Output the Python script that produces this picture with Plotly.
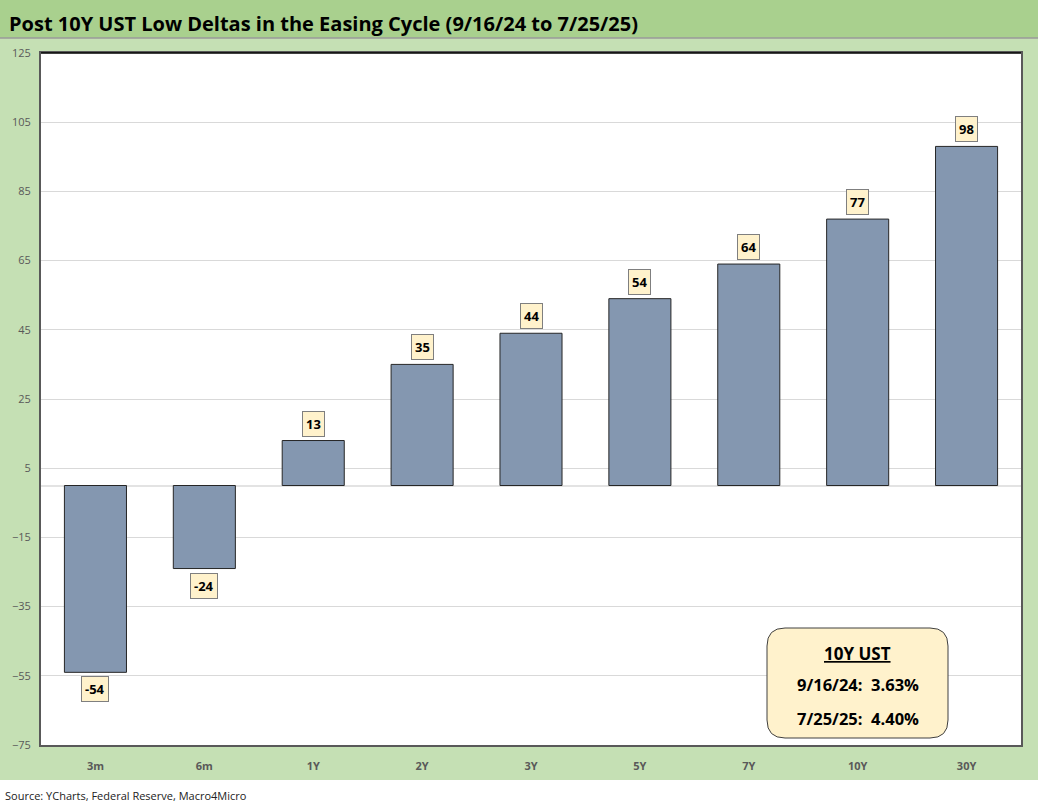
import plotly.graph_objects as go

categories = ["3m", "6m", "1Y", "2Y", "3Y", "5Y", "7Y", "10Y", "30Y"]
deltas = [-54, -24, 13, 35, 44, 54, 64, 77, 98]
y_ticks = [-75, -55, -35, -15, 5, 25, 45, 65, 85, 105, 125]
title_text = "Post 10Y UST Low Deltas in the Easing Cycle (9/16/24 to 7/25/25)"
source_text = "Source: YCharts, Federal Reserve, Macro4Micro"
box_title = "10Y UST"
box_lines = ["9/16/24:  3.63%", "7/25/25:  4.40%"]

W, H = 1038, 808
L, R, T, B = 41, 17, 53, 63
PW, PH = W - L - R, H - T - B

def px(x):
    return (x - L) / PW

def py(y):
    return (H - B - y) / PH

FONT = "Open Sans"

fig = go.Figure()
fig.add_trace(go.Bar(
    x=categories, y=deltas,
    marker=dict(color="#8497b0", line=dict(color="#262626", width=1)),
    width=0.57, hoverinfo="x+y",
))

shapes = [
    dict(type="rect", xref="paper", yref="paper", x0=px(0), x1=px(1038), y0=py(780), y1=py(38),
         fillcolor="#c5e0b4", line=dict(width=0), layer="below"),
    dict(type="rect", xref="paper", yref="paper", x0=px(0), x1=px(1038), y0=py(38), y1=py(0),
         fillcolor="#a9d08e", line=dict(width=0), layer="below"),
    dict(type="line", xref="paper", yref="paper", x0=px(0), x1=px(1038), y0=py(38), y1=py(38),
         line=dict(color="#9a9a9a", width=1.5), layer="below"),
    dict(type="rect", xref="paper", yref="paper", x0=0, x1=1, y0=0, y1=1,
         fillcolor="white", line=dict(width=0), layer="below"),
    dict(type="line", xref="paper", yref="paper", x0=0, x1=1, y0=1, y1=1,
         line=dict(color="#000000", width=1.5)),
]

bx0, bx1, by0, by1 = 767, 948, 738, 628
r = 18
rx, ry = r / PW, r / PH
X0, X1, Y0, Y1 = px(bx0), px(bx1), py(by0), py(by1)
path = (f"M {X0+rx},{Y1} L {X1-rx},{Y1} Q {X1},{Y1} {X1},{Y1-ry} "
        f"L {X1},{Y0+ry} Q {X1},{Y0} {X1-rx},{Y0} L {X0+rx},{Y0} "
        f"Q {X0},{Y0} {X0},{Y0+ry} L {X0},{Y1-ry} Q {X0},{Y1} {X0+rx},{Y1} Z")
shapes.append(dict(type="path", xref="paper", yref="paper", path=path,
                   fillcolor="#fff2cc", line=dict(color="#404040", width=1)))

annotations = []
for c, v in zip(categories, deltas):
    annotations.append(dict(
        x=c, y=v, xref="x", yref="y", text=f"<b>{v}</b>", showarrow=False,
        xanchor="center",
        yanchor="bottom" if v >= 0 else "top", yshift=4 if v >= 0 else -4,
        font=dict(family=FONT, size=13, color="black"),
        bgcolor="#fff2cc", bordercolor="#7f7f7f", borderwidth=1, borderpad=3,
    ))

cx = px((bx0 + bx1) / 2)
annotations.append(dict(x=cx, y=py(653), xref="paper", yref="paper", showarrow=False,
                        xanchor="center", yanchor="middle",
                        text=f"<b><u>{box_title}</u></b>", font=dict(family=FONT, size=17, color="black")))
annotations.append(dict(x=cx, y=py(684), xref="paper", yref="paper", showarrow=False,
                        xanchor="center", yanchor="middle",
                        text=f"<b>{box_lines[0]}</b>", font=dict(family=FONT, size=16.5, color="black")))
annotations.append(dict(x=cx, y=py(718), xref="paper", yref="paper", showarrow=False,
                        xanchor="center", yanchor="middle",
                        text=f"<b>{box_lines[1]}</b>", font=dict(family=FONT, size=16.5, color="black")))
annotations.append(dict(x=px(7), y=py(24), xref="paper", yref="paper", showarrow=False,
                        xanchor="left", yanchor="middle",
                        text=f"<b>{title_text}</b>", font=dict(family=FONT, size=20, color="black")))
annotations.append(dict(x=px(3), y=py(795), xref="paper", yref="paper", showarrow=False,
                        xanchor="left", yanchor="middle",
                        text=source_text, font=dict(family=FONT, size=11, color="#222222")))

fig.update_layout(
    width=W, height=H,
    margin=dict(l=L, r=R, t=T, b=B, pad=0),
    paper_bgcolor="white", plot_bgcolor="rgba(0,0,0,0)",
    showlegend=False, bargap=0.43,
    shapes=shapes, annotations=annotations,
    font=dict(family=FONT),
)
fig.update_xaxes(
    showline=True, linecolor="#595959", linewidth=2, mirror=True,
    tickfont=dict(family=FONT, size=11, color="#595959"),
    ticks="", ticklabelstandoff=10,
    tickvals=categories, ticktext=[f"<b>{c}</b>" for c in categories],
)
fig.update_yaxes(
    range=[-75, 125], tickvals=y_ticks,
    showgrid=True, gridcolor="#d9d9d9", gridwidth=1,
    zeroline=True, zerolinecolor="#e3e3e3", zerolinewidth=2,
    showline=True, linecolor="#595959", linewidth=2, mirror=True,
    tickfont=dict(family=FONT, size=11, color="#595959"),
    ticks="", ticklabelstandoff=6,
)

fig.write_html("out.html", config={"displayModeBar": False},
               post_script="document.body.style.margin='0';document.body.style.overflow='hidden';")
